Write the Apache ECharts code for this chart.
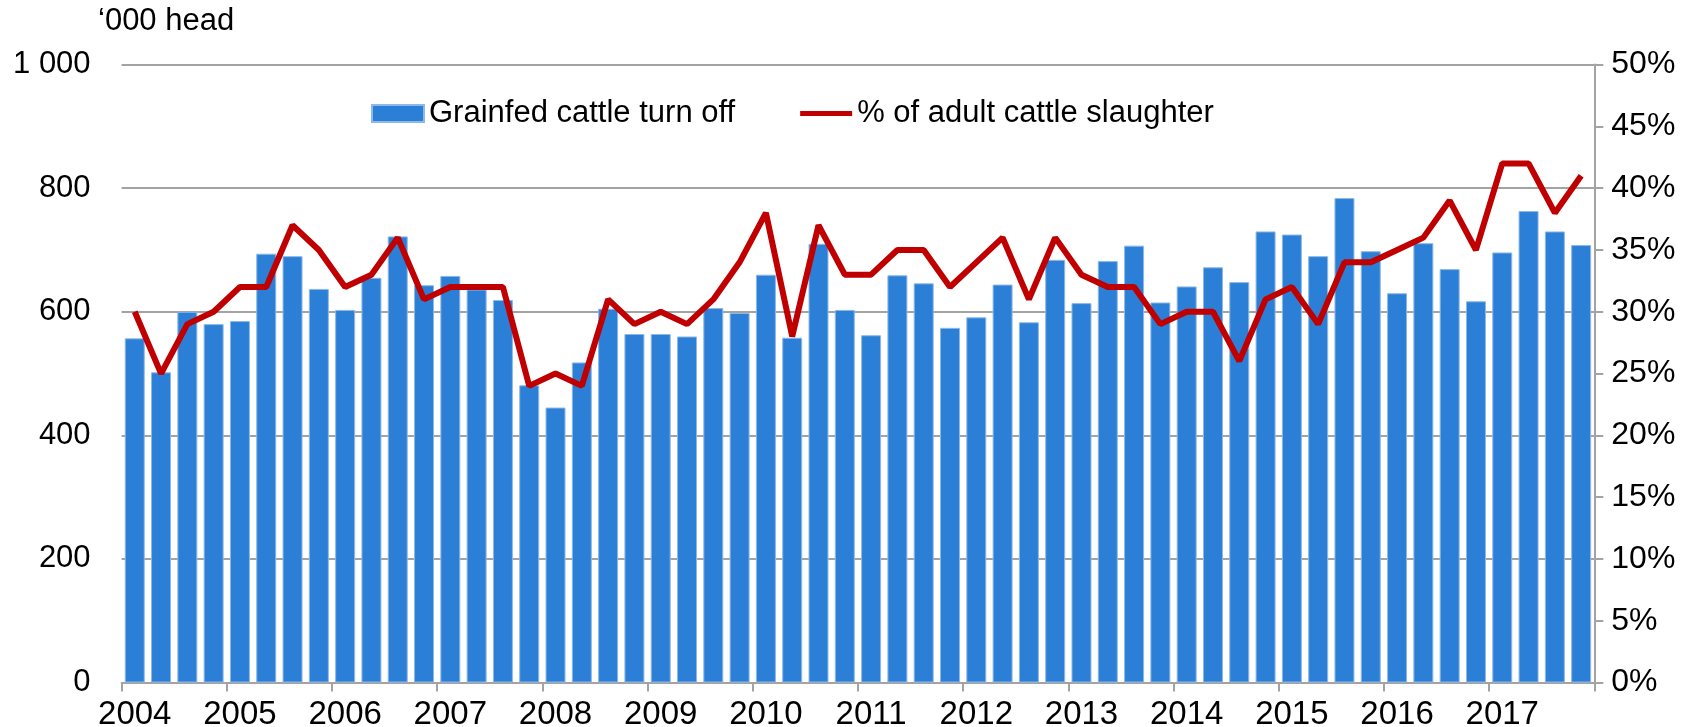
<!DOCTYPE html>
<html>
<head>
<meta charset="utf-8">
<script src="https://cdn.jsdelivr.net/npm/echarts@6/dist/echarts.min.js"></script>
<style>
  html, body { margin: 0; padding: 0; background: #fff; }
  #main { width: 1688px; height: 727px; }
</style>
</head>
<body>
<div id="main"></div>
<script>
// quarterly data, 2004 Q1 - 2017 Q4
var years = ['2004', '2005', '2006', '2007', '2008', '2009', '2010', '2011', '2012', '2013', '2014', '2015', '2016', '2017'];
var quarters = ['Q1', 'Q2', 'Q3', 'Q4'];

// '000 head
var turnOff = [557, 502, 600, 580, 585, 694, 690, 637, 603, 655, 722, 643, 658, 636, 619, 481,
    445, 518, 605, 564, 564, 560, 606, 598, 660, 558, 710, 603, 562, 659, 646, 574,
    591, 644, 583, 684, 614, 682, 707, 615, 641, 672, 648, 730, 725, 690, 784, 698,
    630, 711, 669, 617, 696, 763, 730, 708];

// % of adult cattle slaughter
var share = [30, 25, 29, 30, 32, 32, 37, 35, 32, 33, 36, 31, 32, 32, 32, 24,
    25, 24, 31, 29, 30, 29, 31, 34, 38, 28, 37, 33, 33, 35, 35, 32,
    34, 36, 31, 36, 33, 32, 32, 29, 30, 30, 26, 31, 32, 29, 34, 34,
    35, 36, 39, 35, 42, 42, 38, 41];

var leftTicks = [0, 200, 400, 600, 800, 1000];
var rightTicks = [0, 5, 10, 15, 20, 25, 30, 35, 40, 45, 50];

var categories = [];
for (var i = 0; i < years.length; i++) {
    for (var q = 0; q < quarters.length; q++) {
        categories.push(years[i] + ' ' + quarters[q]);
    }
}

var font = 'Liberation Sans';
var gray = '#a3a3a3';

var myChart = echarts.init(document.getElementById('main'));
var option = {
    animation: false,
    textStyle: { fontFamily: font },
    grid: { left: 121.6, right: 93.7, top: 64.6, bottom: 44.5, outerBoundsMode: 'none' },
    graphic: [{
        type: 'text',
        left: 98,
        top: 6,
        style: { text: '\u2018000 head', font: '31px ' + font, fill: '#000' }
    }],
    legend: {
        left: 366,
        top: 93,
        itemWidth: 52,
        itemHeight: 17,
        itemGap: 65,
        textStyle: { fontSize: 31, color: '#000', fontFamily: font },
        data: [
            { name: 'Grainfed cattle turn off', icon: 'rect' },
            { name: '% of adult cattle slaughter', icon: 'path://M0,0L52,0L52,5L0,5Z' }
        ]
    },
    xAxis: [{
        type: 'category',
        data: categories,
        axisLine: { lineStyle: { color: gray, width: 2 } },
        axisTick: { show: false },
        // year label sits on the first quarter
        axisLabel: {
            interval: 3,
            margin: 16,
            fontSize: 33,
            color: '#000',
            formatter: function (v) { return v.split(' ')[0]; }
        }
    }, {
        // tick marks at year boundaries
        type: 'value',
        position: 'bottom',
        min: 0,
        max: categories.length,
        interval: 4,
        axisLine: { show: false },
        splitLine: { show: false },
        axisTick: { show: true, length: 9, lineStyle: { color: gray, width: 2 } },
        axisLabel: { show: false }
    }],
    yAxis: [{
        type: 'value',
        min: leftTicks[0],
        max: leftTicks[leftTicks.length - 1],
        interval: 200,
        axisLine: { show: false },
        axisTick: { show: false },
        axisLabel: {
            margin: 31,
            fontSize: 31,
            color: '#000',
            formatter: function (v) { return v >= 1000 ? '1 000' : String(v); }
        },
        splitLine: { lineStyle: { color: gray, width: 2 } }
    }, {
        type: 'value',
        min: rightTicks[0],
        max: rightTicks[rightTicks.length - 1],
        interval: 5,
        position: 'right',
        axisLine: { show: true, lineStyle: { color: gray, width: 2 } },
        axisTick: { show: true, length: 9, lineStyle: { color: gray, width: 2 } },
        axisLabel: { margin: 17, fontSize: 32, color: '#000', formatter: '{value}%' },
        splitLine: { show: false }
    }],
    series: [{
        name: 'Grainfed cattle turn off',
        type: 'bar',
        data: turnOff,
        barCategoryGap: '24%',
        itemStyle: { color: '#2b7fd6', borderColor: '#8db9e8', borderWidth: 1 }
    }, {
        name: '% of adult cattle slaughter',
        type: 'line',
        yAxisIndex: 1,
        data: share,
        symbol: 'none',
        z: 5,
        lineStyle: { color: '#c00000', width: 6 },
        itemStyle: { color: '#c00000' }
    }]
};
myChart.setOption(option);
</script>
</body>
</html>
